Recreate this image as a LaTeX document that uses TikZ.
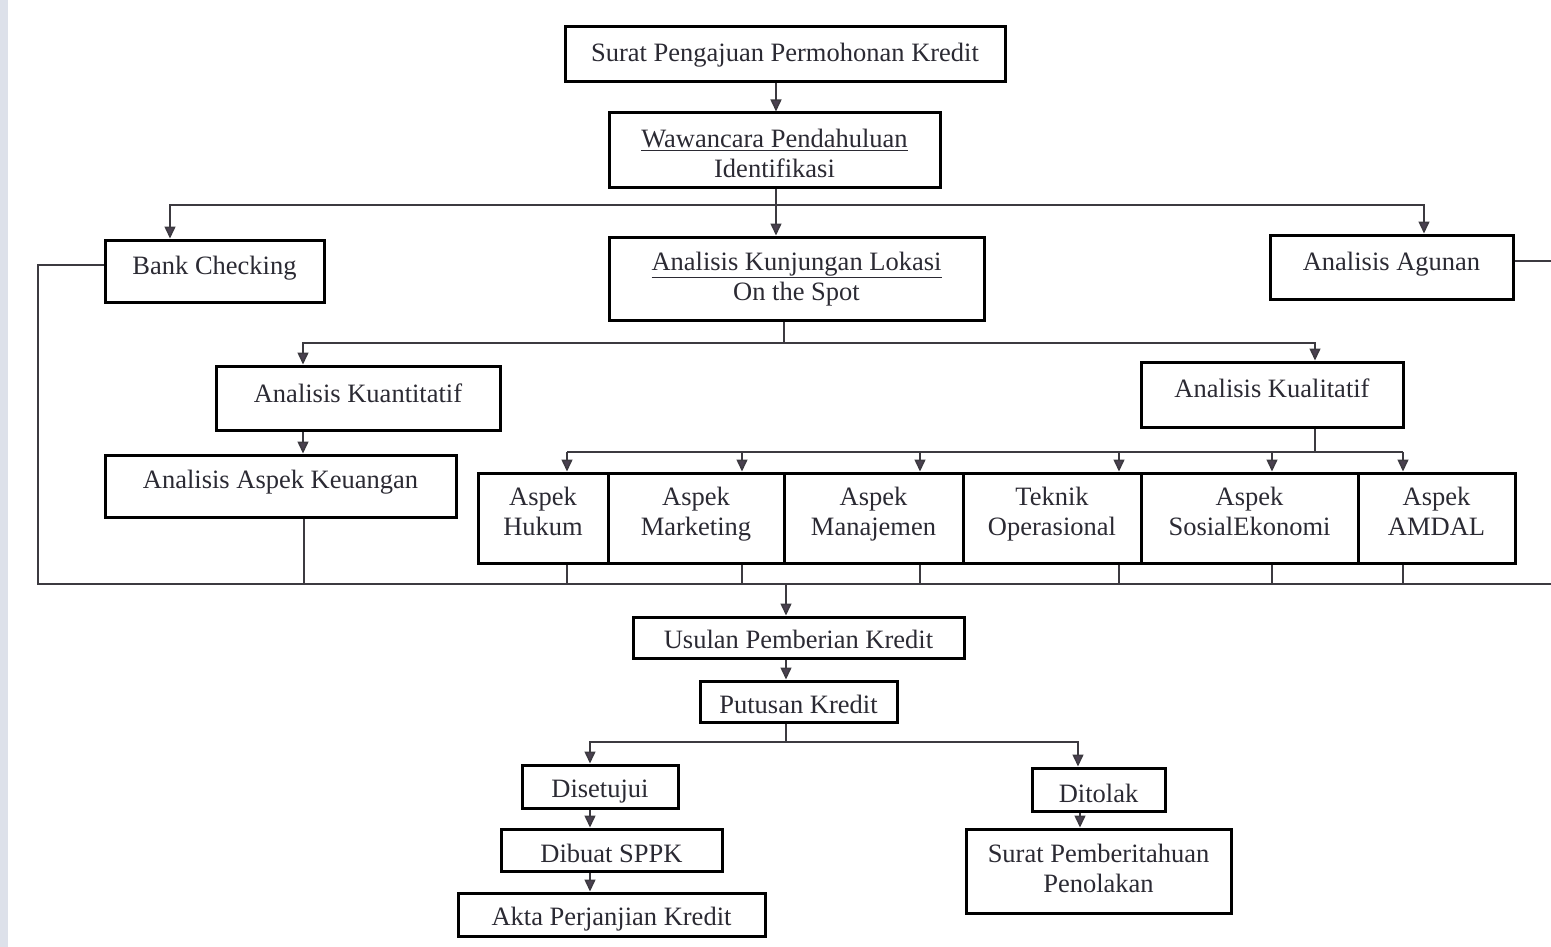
\documentclass[tikz,border=0pt]{standalone}
\usepackage{fontspec}
\setmainfont{Liberation Serif}
\usetikzlibrary{arrows.meta}
\definecolor{ink}{HTML}{2B2A33}
\definecolor{lin}{HTML}{3C3A40}
\definecolor{tip}{HTML}{4A4150}
\definecolor{strip}{HTML}{DDE1EA}
\tikzset{
  box/.style={draw=black, line width=3pt, inner sep=0pt},
  txt/.style={anchor=base, inner sep=0pt, text=ink, font=\fontsize{26.5}{30}\selectfont},
  wire/.style={draw=lin, line width=1.5pt},
  arr/.style={wire, -{Triangle[width=11pt,length=12pt,fill=tip]}},
}
\newcommand\bx[7]{%
  \node[box, minimum width={#4-#2}, minimum height={#5-#3}] (#1) at ({(#2+#4)/2},{(#3+#5)/2}) {};
  \node[txt] (#1t) at ({(#2+#4)/2},#6) {#7};}
\newcommand\two[2]{\begin{tabular}[t]{@{}c@{}}#1\\#2\end{tabular}}
\begin{document}
\begin{tikzpicture}[x=1pt,y=-1pt]
\useasboundingbox (0,0) rectangle (1551,947);
\clip (0,0) rectangle (1551,947);
\fill[strip] (0,0) rectangle (8,947);

% boxes
\bx{spk}{565}{27}{1005}{82}{62}{Surat Pengajuan Permohonan Kredit}
\bx{wp}{609}{113}{940}{188}{148}{\two{\underline{Wawancara Pendahuluan}}{Identifikasi}}
\bx{bc}{105}{240}{324}{302}{274}{Bank Checking}
\bx{akl}{609}{237}{984}{320}{270}{\two{\underline{Analisis Kunjungan Lokasi}}{On the Spot}}
\bx{ag}{1270}{235}{1513}{299}{270}{Analisis Agunan}
\bx{kn}{216}{366}{500}{430}{402}{Analisis Kuantitatif}
\bx{ku}{105}{455}{456}{517}{488}{Analisis Aspek Keuangan}
\bx{kl}{1141}{362}{1403}{427}{397}{Analisis Kualitatif}
\bx{a1}{478}{473}{608}{563}{505}{\two{Aspek}{Hukum}}
\bx{a2}{608}{473}{784}{563}{505}{\two{Aspek}{Marketing}}
\bx{a3}{784}{473}{963}{563}{505}{\two{Aspek}{Manajemen}}
\bx{a4}{963}{473}{1141}{563}{505}{\two{Teknik}{Operasional}}
\bx{a5}{1141}{473}{1358}{563}{505}{\two{Aspek}{SosialEkonomi}}
\bx{a6}{1358}{473}{1515}{563}{505}{\two{Aspek}{AMDAL}}
\bx{us}{633}{617}{964}{658}{648}{Usulan Pemberian Kredit}
\bx{pk}{700}{681}{897}{722}{713}{Putusan Kredit}
\bx{ds}{522}{765}{678}{808}{797}{Disetujui}
\bx{sp}{501}{829}{722}{871}{862}{Dibuat SPPK}
\bx{ak}{458}{893}{765}{936}{925}{Akta Perjanjian Kredit}
\bx{dt}{1032}{768}{1165}{811}{802}{Ditolak}
\bx{sr}{966}{829}{1231}{913}{862}{\two{Surat Pemberitahuan}{Penolakan}}

% junction points
\coordinate (j1) at (776,205);
\coordinate (j2) at (784,343);
\coordinate (j3) at (1315,452);
\coordinate (j4) at (786,742);

% top
\draw[arr] (776,0 |- spk.south) -- (776,0 |- wp.north);
\draw[arr] (776,0 |- wp.south) -- (776,0 |- akl.north);
\draw[arr] (j1) -- (170,205) -- (170,0 |- bc.north);
\draw[arr] (j1) -- (1424,205) -- (1424,0 |- ag.north);

% second branch
\draw[wire] (784,0 |- akl.south) -- (j2);
\draw[arr] (j2) -- (303,343) -- (303,0 |- kn.north);
\draw[arr] (j2) -- (1315,343) -- (1315,0 |- kl.north);
\draw[arr] (303,0 |- kn.south) -- (303,0 |- ku.north);

% quality branch
\draw[wire] (1315,0 |- kl.south) -- (j3);
\draw[wire] (567,452) -- (1403,452);
\foreach \xx/\nn in {567/a1,742/a2,920/a3,1119/a4,1272/a5,1403/a6}{
  \draw[arr] (\xx,452) -- (\xx,0 |- \nn.north);
  \draw[wire] (\xx,0 |- \nn.south) -- (\xx,584);
}

% feedback bus
\draw[wire] (bc.west |- 0,265) -- (38,265) -- (38,584) -- (1551,584);
\draw[wire] (ag.east |- 0,261) -- (1551,261);
\draw[wire] (304,0 |- ku.south) -- (304,584);

% bottom
\draw[arr] (786,584) -- (786,0 |- us.north);
\draw[arr] (786,0 |- us.south) -- (786,0 |- pk.north);
\draw[wire] (786,0 |- pk.south) -- (j4);
\draw[arr] (j4) -- (590,742) -- (590,0 |- ds.north);
\draw[arr] (j4) -- (1078,742) -- (1078,0 |- dt.north);
\draw[arr] (590,0 |- ds.south) -- (590,0 |- sp.north);
\draw[arr] (590,0 |- sp.south) -- (590,0 |- ak.north);
\draw[arr] (1080,0 |- dt.south) -- (1080,0 |- sr.north);
\end{tikzpicture}
\end{document}
